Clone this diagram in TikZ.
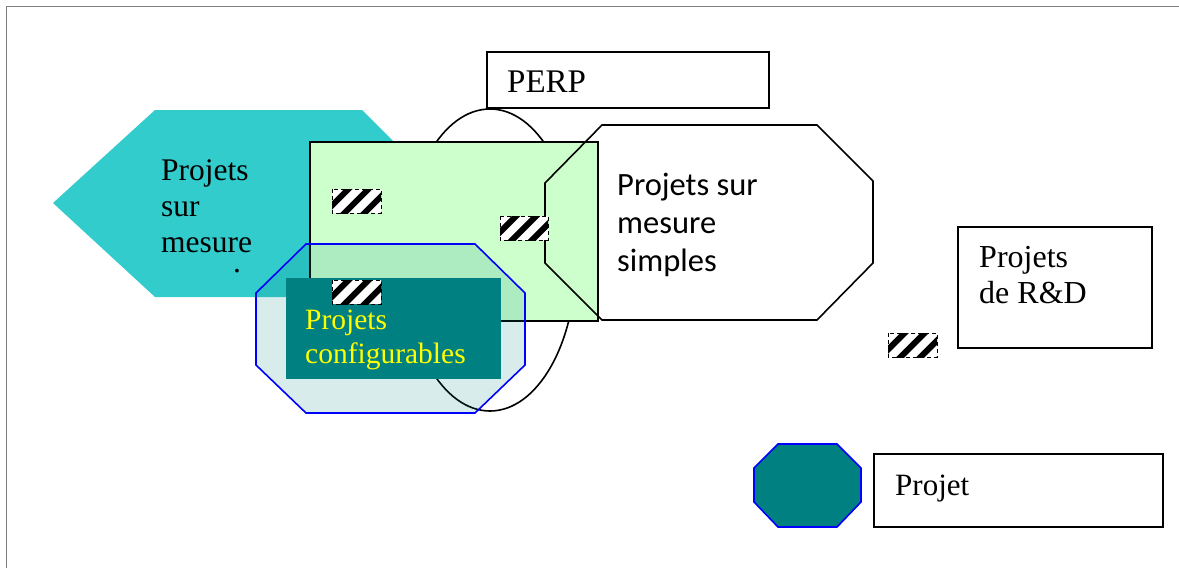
\documentclass[tikz,border=0pt]{standalone}
\usepackage{fontspec}
\setmainfont{Liberation Serif}
\newfontfamily\calibri{Carlito}
\definecolor{cyanfill}{HTML}{33CCCC}
\definecolor{greenfill}{HTML}{CCFFCC}
\definecolor{tealfill}{HTML}{008080}
\definecolor{bluedge}{HTML}{0000FF}
\definecolor{yellowtxt}{HTML}{FFFF00}
\begin{document}
\begin{tikzpicture}[x=1pt,y=-1pt,
  edge/.style={draw=black, line width=1.6pt},
  txtbase/.style={align=left, inner sep=0pt, anchor=base west},
  hatchbox/.style={fill=white, draw=black, line width=0.8pt, dash pattern=on 4pt off 3pt,
    path picture={
      \foreach \i in {-44,-24,...,46}
        \draw[solid, line width=6pt, black]
          ([xshift=\i pt, yshift=-24pt]path picture bounding box.center) -- ++(48pt,48pt);
    }},
]
\useasboundingbox (0,0) rectangle (1179,568);
% frame
\draw[color=gray, line width=1.6pt] (6.5,568) -- (6.5,6.5) -- (1179,6.5);

% cyan hexagon
\fill[cyanfill] (53,203) -- (155,110) -- (362,110) -- (455,203) -- (362,297) -- (155,297) -- cycle;
\node[txtbase, font=\fontsize{31.5}{36}\selectfont] (tsm) at (161,252) {Projets\\sur\\mesure};
\node[font=\fontsize{31.5}{36}\selectfont, inner sep=0pt, text height=3pt, text depth=0pt, anchor=base] (dot) at (237,272) {.};

% ellipse
\draw[edge, fill=white] (490,260) ellipse [x radius=86pt, y radius=151pt];

% green rectangle
\draw[edge, fill=greenfill] (310,142) rectangle (598,321);

% octagon "Projets sur mesure simples"
\draw[edge] (602,125) -- (817,125) -- (873,181) -- (873,263) -- (817,320) -- (602,320) -- (545,263) -- (545,183) -- cycle;
\node[txtbase, font=\calibri\fontsize{32.5}{38}\selectfont] (tsimple) at (617,271) {Projets sur\\mesure\\simples};

% hatched markers
\path[hatchbox] (332,189) rectangle (381,213);
\path[hatchbox] (500,216) rectangle (548,240);

% blue translucent octagon
\path[draw=bluedge, line width=1.6pt, fill=tealfill, fill opacity=0.15]
  (306,244) -- (475,244) -- (525,293) -- (525,365) -- (475,413) -- (306,413) -- (256,365) -- (256,293) -- cycle;

% teal rectangle
\fill[tealfill] (286,278) rectangle (501,379);
\path[hatchbox] (332,280) rectangle (381,304);
\node[txtbase, text=yellowtxt, font=\fontsize{29.5}{34}\selectfont] (tconf) at (305,363) {Projets\\configurables};

% PERP box
\draw[edge, fill=white] (487,52) rectangle (769,108);
\node[txtbase, font=\fontsize{33}{38}\selectfont] (tperp) at (507,92) {PERP};

% R&D box
\draw[edge, fill=white] (958,227) rectangle (1152,348);
\node[txtbase, font=\fontsize{32}{36}\selectfont] (trd) at (979,303) {Projets\\de R\&D};
\path[hatchbox] (888,333) rectangle (937,357);

% legend
\draw[draw=bluedge, line width=1.6pt, fill=tealfill]
  (778,444) -- (837,444) -- (861,468) -- (861,502) -- (837,527) -- (778,527) -- (754,502) -- (754,468) -- cycle;
\draw[edge, fill=white] (874,454) rectangle (1163,527);
\node[txtbase, font=\fontsize{31}{36}\selectfont] (tproj) at (895,495) {Projet};
\end{tikzpicture}
\end{document}
